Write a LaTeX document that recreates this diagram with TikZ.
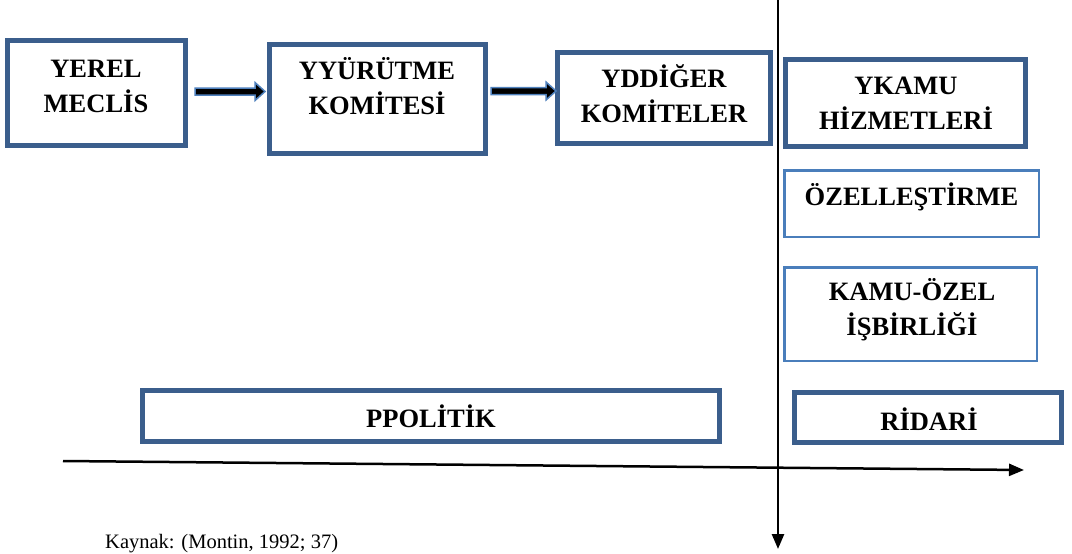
\documentclass[tikz,border=0pt]{standalone}
\usepackage{fontspec}
\setmainfont{Liberation Serif}
\usetikzlibrary{arrows.meta,calc}
\definecolor{boxblue}{HTML}{3B5E8C}
\definecolor{thinblue}{HTML}{4A7EBB}
\definecolor{arrblue}{HTML}{4F81BD}
\newcommand\myblockarrow[2]{%
  \filldraw[blockarr] ($(#1)+(0,-3.5)$) -- ($(#2)+(-10,-3.5)$) -- ($(#2)+(-10,-9)$) -- (#2)
    -- ($(#2)+(-10,9)$) -- ($(#2)+(-10,3.5)$) -- ($(#1)+(0,3.5)$) -- cycle;}
\begin{document}
\begin{tikzpicture}[x=1pt,y=-1pt,
  bigbox/.style={draw=boxblue, line width=5pt, fill=white, inner sep=0pt},
  thinbox/.style={draw=thinblue, line width=2.5pt, fill=white, inner sep=0pt},
  lbl/.style={font=\fontsize{26.5}{35}\selectfont\bfseries, align=center, inner sep=0pt},
  blockarr/.style={fill=black, draw=arrblue, line width=1.5pt, line join=miter},
  axis/.style={line width=2.5pt, -{Triangle[length=15pt,width=12pt]}}]
\useasboundingbox (0,0) rectangle (1072,554);
\fill[white] (0,0) rectangle (1072,554);
\clip (0,0) rectangle (1072,554);

% boxes
\node[bigbox, minimum width=178pt, minimum height=105pt] (yerel) at (96.5,93) {};
\node[bigbox, minimum width=216pt, minimum height=109pt] (yur) at (377.5,99) {};
\node[bigbox, minimum width=213pt, minimum height=91pt] (ydd) at (664,98) {};
\node[bigbox, minimum width=240pt, minimum height=87pt] (ykamu) at (905.5,103) {};
\node[thinbox, minimum width=254.5pt, minimum height=66.5pt] (ozel) at (911.5,203.5) {};
\node[thinbox, minimum width=252.5pt, minimum height=93.5pt] (kamuozel) at (910.5,314) {};
\node[bigbox, minimum width=577pt, minimum height=51pt] (politik) at (431,416) {};
\node[bigbox, minimum width=267pt, minimum height=50pt] (idari) at (928,417.5) {};

% texts
\node[lbl] (t-yerel) at (96,86.5) {YEREL\\MECLİS};
\node[lbl] (t-yur) at (377,86) {YYÜRÜTME\\KOMİTESİ};
\node[lbl] (t-ydd) at (664,93.5) {YDDİĞER\\KOMİTELER};
\node[lbl] (t-ykamu) at (906,103) {YKAMU\\HİZMETLERİ};
\node[lbl, anchor=base] (t-ozel) at (911.5,205) {ÖZELLEŞTİRME};
\node[lbl] (t-kamuozel) at (912,310) {KAMU-ÖZEL\\İŞBİRLİĞİ};
\node[lbl, anchor=base] (t-politik) at (431,427) {PPOLİTİK};
\node[lbl, anchor=base] (t-idari) at (929,430) {RİDARİ};

% block arrows
\path ([shift={(7,-1.5)}]yerel.east) coordinate (a1s);
\path ([xshift=-2pt]a1s -| yur.west) coordinate (a1e);
\myblockarrow{a1s}{a1e}
\path ([shift={(3,-8)}]yur.east) coordinate (a2s);
\path ([xshift=1pt]a2s -| ydd.west) coordinate (a2e);
\myblockarrow{a2s}{a2e}

% axes
\coordinate (vtop) at (778,-3);
\coordinate (vbot) at (778,549);
\draw[axis] (vtop) -- (vbot);
\coordinate (hleft) at (63,461);
\coordinate (hright) at (1024,470);
\draw[axis] (hleft) -- (hright);

% source
\node[anchor=base west, font=\fontsize{20.5}{25}\selectfont, inner sep=0pt] (src) at (105,548) {Kaynak: (Montin, 1992; 37)};
\end{tikzpicture}
\end{document}
